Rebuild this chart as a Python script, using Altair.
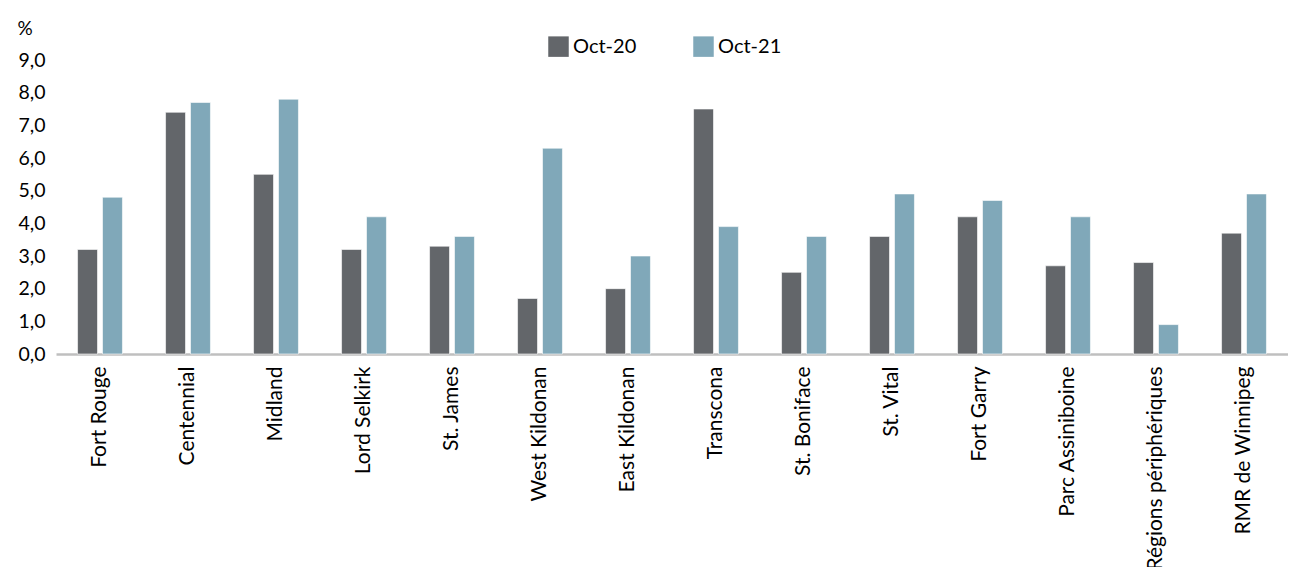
import altair as alt
import pandas as pd

categories = ["Fort Rouge", "Centennial", "Midland", "Lord Selkirk", "St. James",
              "West Kildonan", "East Kildonan", "Transcona", "St. Boniface", "St. Vital",
              "Fort Garry", "Parc Assiniboine", "Régions périphériques", "RMR de Winnipeg"]
series = ["Oct-20", "Oct-21"]
oct20 = [3.2, 7.4, 5.5, 3.2, 3.3, 1.7, 2.0, 7.5, 2.5, 3.6, 4.2, 2.7, 2.8, 3.7]
oct21 = [4.8, 7.7, 7.8, 4.2, 3.6, 6.3, 3.0, 3.9, 3.6, 4.9, 4.7, 4.2, 0.9, 4.9]
colors = ["#63666A", "#80A8B9"]
y_ticks = [0, 1, 2, 3, 4, 5, 6, 7, 8, 9]

rows = []
for i, c in enumerate(categories):
    rows.append({"cat": c, "serie": series[0], "val": oct20[i]})
    rows.append({"cat": c, "serie": series[1], "val": oct21[i]})
df = pd.DataFrame(rows)

FONT = "Lato"

chart = alt.Chart(df).mark_bar(stroke="white", strokeWidth=0.6).encode(
    x=alt.X("cat:N", sort=categories,
            scale=alt.Scale(paddingInner=0.49, paddingOuter=0.245),
            axis=alt.Axis(title=None, labelAngle=-90, labelAlign="right",
                          labelBaseline="middle", ticks=False, labelPadding=12,
                          domainColor="#BFBFBF", domainWidth=2.5,
                          labelFontSize=21, labelColor="#000000", labelFont=FONT,
                          labelLimit=400)),
    xOffset=alt.XOffset("serie:N", sort=series,
                        scale=alt.Scale(paddingInner=0.2, paddingOuter=0)),
    y=alt.Y("val:Q", scale=alt.Scale(domain=[0, 9], nice=False, zero=True),
            axis=alt.Axis(title="%", titleAngle=0, titleAlign="left",
                          titleBaseline="middle", titleX=-39, titleY=-32,
                          titleFontSize=19, titleFontWeight="normal", titleFont=FONT,
                          titleColor="#000000",
                          values=y_ticks, grid=False, domain=False, ticks=False,
                          labelPadding=11, labelFontSize=19.5, labelColor="#000000",
                          labelFont=FONT,
                          labelExpr="replace(format(datum.value, '.1f'), '.', ',')")),
    color=alt.Color("serie:N", sort=series,
                    scale=alt.Scale(domain=series, range=colors),
                    legend=alt.Legend(title=None, orient="none", direction="horizontal",
                                      legendX=492, legendY=-24,
                                      symbolType="square", symbolSize=420,
                                      symbolStrokeWidth=0, labelFontSize=20,
                                      labelFont=FONT, labelColor="#000000",
                                      labelOffset=4, columnPadding=56)),
).properties(
    width=1232, height=294,
    autosize=alt.AutoSizeParams(type="none"),
    padding={"left": 48, "top": 52, "right": 0, "bottom": 213},
).configure_view(stroke=None)

chart.save("out.html", embed_options={"renderer": "svg", "actions": False})
